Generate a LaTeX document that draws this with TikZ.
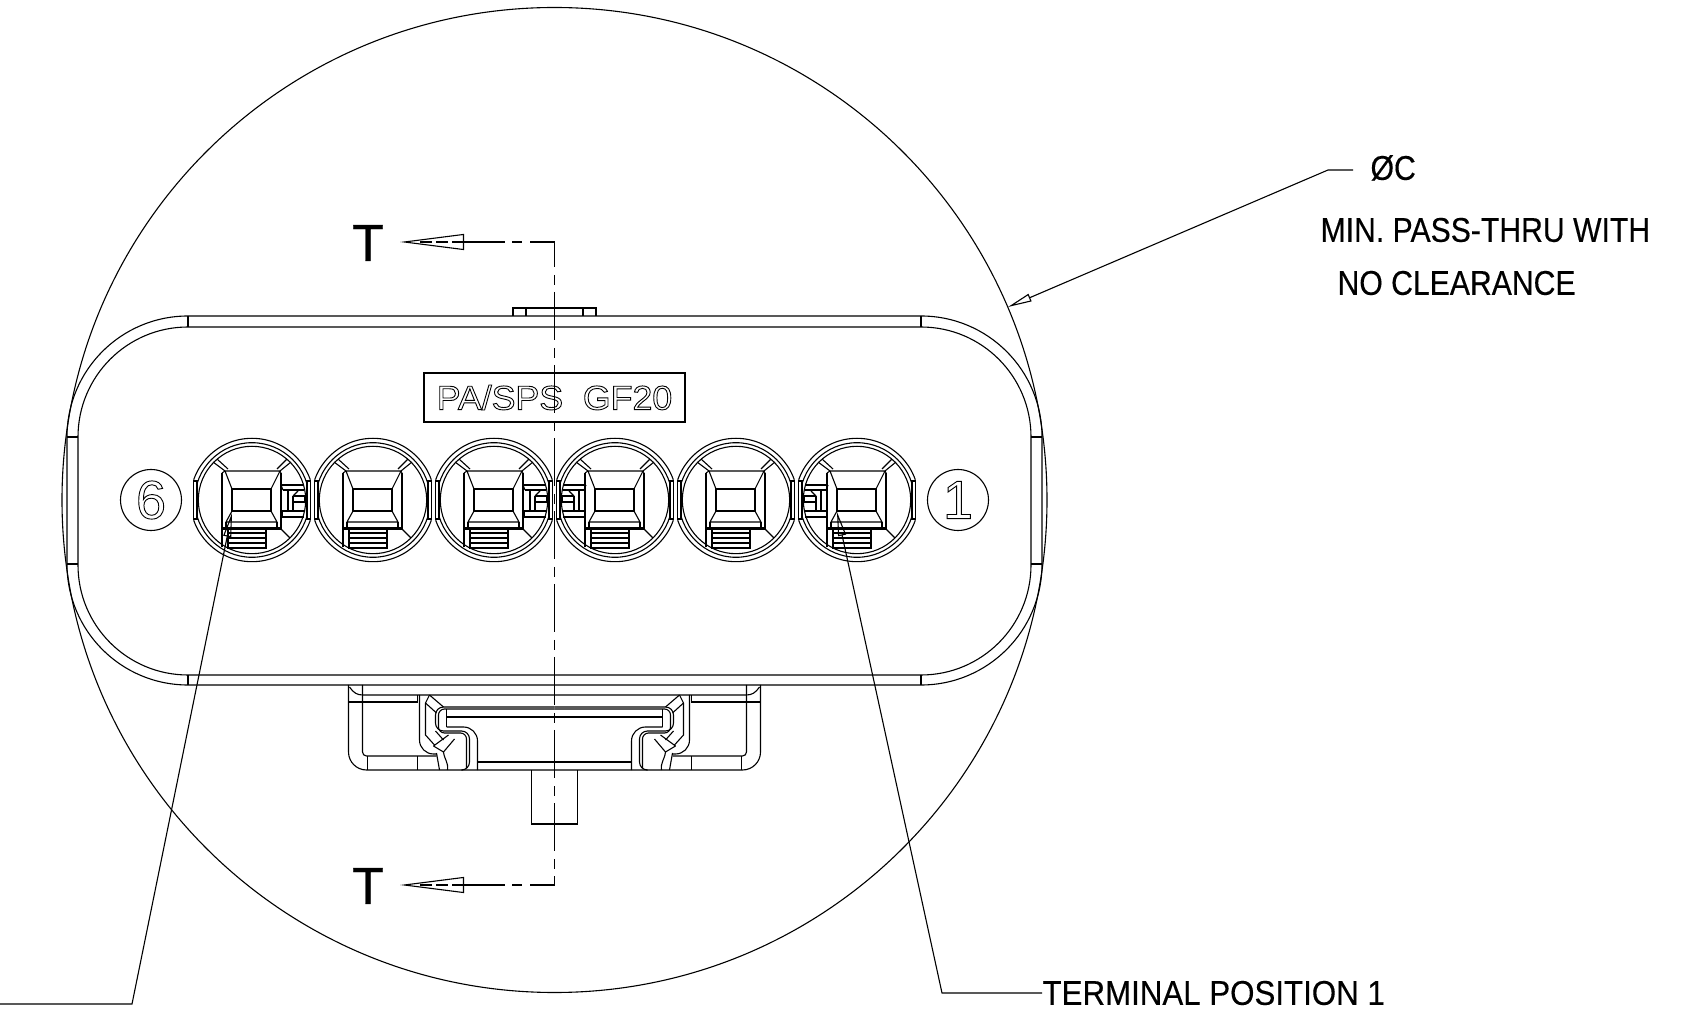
\documentclass[tikz,border=0pt]{standalone}
\usepackage{fontspec}
\usepackage{tikz}
\usetikzlibrary{arrows.meta}
\setmainfont{Liberation Sans}
\newfontfamily\dimfont{Liberation Sans}[FakeStretch=0.877,FakeBold=0.3]
\newfontfamily\termfont{Liberation Sans}[FakeStretch=0.909,FakeBold=0.3]
\newfontfamily\letfont{Liberation Sans}[FakeBold=0.6]
\newfontfamily\tagfont{Liberation Sans}[FakeStretch=1.05]
\newcommand{\outl}[1]{\special{pdf:code 1 Tr 0.45 w}#1\special{pdf:code 0 Tr 0.55 w}}
\newcommand{\terminal}[1]{
\begin{scope}[shift={(#1,500)}]
\begin{scope}
\clip (-58.7,-70) rectangle (58.7,70);
\draw (0,0) circle[radius=61.7];
\end{scope}
\begin{scope}
\clip (-70,-70) rectangle (70,-19) (-70,19) rectangle (70,70) (-55,-19) rectangle (55,19);
\draw (0,0) circle[radius=57.3];
\end{scope}
\draw (0,0) circle[radius=53.7];
\draw (-55,-19) -- (-58.7,-19) -- (-58.7,19) -- (-55,19) -- cycle;
\draw (55,-19) -- (58.7,-19) -- (58.7,19) -- (55,19) -- cycle;
\draw (-27,-29) -- (28,-29) -- (19,-11) -- (-20,-11) -- cycle;
\draw (-20,-11) rectangle (19,11);
\draw (-30,-27) -- (-30,47);
\draw (29,-27) -- (29,29);
\draw (-27,-29) -- (-30,-27);
\draw (28,-29) -- (29,-27);
\draw (-20,11) -- (-26,22) -- (25,22) -- (19,11);
\draw (-26,22) -- (-26,27);
\draw (25,22) -- (25,27);
\draw (-30,27.5) -- (29,27.5);
\draw (-30,29) -- (29,29);
\draw (-24,29) -- (-24,48) -- (14,48) -- (14,29);
\draw (-24,33) -- (14,33);
\draw (-24,38) -- (14,38);
\draw (-24,43) -- (14,43);
\draw (-27,-29) -- (-39,-38);
\draw (-24,-31) -- (-35,-41);
\draw (28,-29) -- (39,-38);
\draw (25,-31) -- (35,-41);
\draw (29,29) -- (38,38);
\end{scope}
}
\newcommand{\termclip}[2]{
\begin{scope}[shift={(#1,500)},xscale=#2]
\draw (29,-15) -- (52,-15);
\draw (31,-10) -- (52,-10);
\draw (29,-15) -- (31,-10);
\draw (30,11) -- (52,11);
\draw (30,17) -- (52,17);
\draw (30,11) -- (30,17);
\draw (36,-10) -- (36,11);
\draw (41,-4) -- (41,11);
\draw (41,-4) -- (46,-9);
\draw (41,-4) -- (53,-4) -- (53,2) -- (41,2);
\end{scope}
}
\newcommand{\plughalf}[1]{
\begin{scope}[shift={(554.5,0)},xscale=#1]
\draw[rounded corners=9pt] (-206,685) -- (-206,770) -- (0,770);
\draw[rounded corners=2pt] (-192,685) -- (-192,756) -- (-118,756);
\draw (-205,687) .. controls (-201,693) and (-197,695) .. (-192,695) -- (0,695);
\draw (-206,702) -- (-137,702) -- (-137,695);
\draw (-187,756) -- (-187,770);
\draw (-137,756) -- (-137,770);
\draw (-77,762) -- (0,762);
\draw[rounded corners=7pt] (-108,727) -- (-77,727) -- (-77,770);
\draw[rounded corners=4pt] (0,707) -- (-119,707) -- (-119,731) -- (-85,731) -- (-85,770) -- (-92,770);
\draw[rounded corners=3pt] (0,709) -- (-116,709) -- (-116,733) -- (-88,733) -- (-88,768);
\draw (-108,717) -- (0,717);
\draw (-108,709) -- (-108,727);
\draw[rounded corners=7pt] (-135,695) -- (-135,754) -- (-118,754);
\draw (-129,703) -- (-129,735) -- (-120,745);
\draw (-125,695) -- (-111,707);
\draw (-129,703) -- (-118,713);
\draw (-125,695) -- (-129,703);
\draw (-121,746) -- (-106,735);
\draw (-111,752) -- (-100,739);
\draw (-121,746) -- (-111,752);
\draw (-118,753) -- (-115,770);
\draw (-111,752) .. controls (-110,760) and (-106,762) .. (-107,770);
\draw (-119,731) -- (-111,740);
\end{scope}
}
\tikzset{
dimtext/.style={font=\dimfont\fontsize{17.2}{17.2}\selectfont,inner sep=0pt,anchor=west},
secletter/.style={font=\letfont\fontsize{26}{26}\selectfont,inner sep=0pt},
tagbox/.style={draw,minimum width=130.5pt,minimum height=24.5pt,inner sep=0pt,font=\tagfont\fontsize{17}{17}\selectfont},
poscircle/.style={circle,draw,minimum size=30.5pt,inner sep=0pt,font=\fontsize{27}{27}\selectfont},
secline/.style={dash pattern=on 24pt off 4pt on 5pt off 3.5pt,dash phase=11.5pt},
sectip/.style={-{Triangle[open,length=32pt,width=8pt]}},
leadtip/.style={-{Triangle[open,length=12pt,width=4pt]}}
}
\begin{document}
\begin{tikzpicture}[x=0.5pt,y=-0.5pt,line width=0.55pt]
\useasboundingbox (0,0) rectangle (1698,1015);

\draw (554.5,500) circle[radius=492.5];

\draw[rounded corners=60.5pt] (67,316) rectangle (1042,685);
\draw[rounded corners=55pt] (78,327) rectangle (1031,675);
\draw (188,316) -- (188,327);
\draw (921,316) -- (921,327);
\draw (188,675) -- (188,685);
\draw (921,675) -- (921,685);
\draw (67,437) -- (78,437);
\draw (67,564) -- (78,564);
\draw (1031,437) -- (1042,437);
\draw (1031,564) -- (1042,564);

\draw (513,316) -- (513,308) -- (596,308) -- (596,316);
\draw (526,308) -- (526,316);
\draw (583,308) -- (583,316);

\node[tagbox] (tag) at (554.5,397.5) {\outl{PA/SPS\ \ GF20}};

\node[poscircle] (pos6) at (151,500) {\outl{6}};
\node[poscircle] (pos1) at (958,500) {\outl{1}};

\terminal{252}
\terminal{373}
\terminal{494}
\terminal{615}
\terminal{736}
\terminal{857}
\termclip{252}{1}
\termclip{494}{1}
\termclip{615}{-1}
\termclip{857}{-1}

\plughalf{1}
\plughalf{-1}
\draw (531.5,770) -- (531.5,824) -- (577.5,824) -- (577.5,770);

\coordinate (secA) at (554.5,242);
\coordinate (secB) at (554.5,885);
\coordinate (tipA) at (400,242);
\coordinate (tipB) at (400,885);
\draw[secline] (secA) -- (secB);
\draw[secline,sectip] (secA) -- (tipA);
\draw[secline,sectip] (secB) -- (tipB);
\draw[dash pattern=on 6pt off 2pt] (420,242) -- (464,242);
\draw[dash pattern=on 6pt off 2pt] (420,885) -- (464,885);
\node[secletter] (letA) at (368,243) {T};
\node[secletter] (letB) at (368,886) {T};

\coordinate (tip6) at (232,513);
\coordinate (bend6) at (132,1004);
\coordinate (end6) at (0,1004);
\draw[leadtip] (end6) -- (bend6) -- (tip6);

\coordinate (tip1) at (837,512);
\coordinate (bend1) at (942,993);
\node[dimtext,font=\termfont\fontsize{17.2}{17.2}\selectfont] (term1) at (1042,993) {TERMINAL POSITION 1};
\draw[leadtip] (term1.west) -- (bend1) -- (tip1);

\coordinate (tipC) at (1008,307);
\coordinate (bendC) at (1328,170);
\node[dimtext] (phiC) at (1370,168) {ØC};
\draw[leadtip] (1353,170) -- (bendC) -- (tipC);
\node[dimtext] (minpass) at (1320,230) {MIN. PASS-THRU WITH};
\node[dimtext] (noclear) at (1337,283) {NO CLEARANCE};
\end{tikzpicture}
\end{document}
